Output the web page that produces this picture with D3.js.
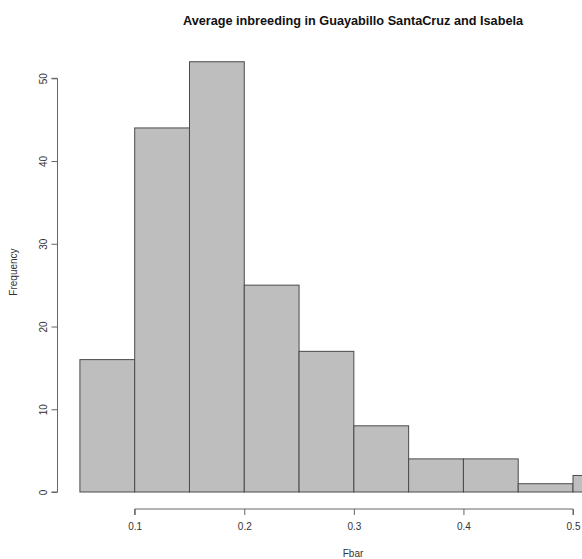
<!DOCTYPE html>
<html>
<head>
<meta charset="utf-8">
<script src="https://cdn.jsdelivr.net/npm/d3@7"></script>
<style>
  html, body { margin: 0; padding: 0; background: #fff; }
  svg { display: block; font-family: "Liberation Sans", Arial, Helvetica, sans-serif; }
</style>
</head>
<body>
<svg id="chart" width="582" height="559"></svg>
<script>
// Histogram of average inbreeding (Fbar), bin width 0.05
const binEdges = [0.05, 0.10, 0.15, 0.20, 0.25, 0.30, 0.35, 0.40, 0.45, 0.50, 0.55];
const binCounts = [16, 44, 52, 25, 17, 8, 4, 4, 1, 2];
const xTicks = [0.1, 0.2, 0.3, 0.4, 0.5];
const yTicks = [0, 10, 20, 30, 40, 50];
const titleText = "Average inbreeding in Guayabillo SantaCruz and Isabela";
const xLabel = "Fbar";
const yLabel = "Frequency";

const svg = d3.select("#chart");

const x = d3.scaleLinear().domain([0.1, 0.5]).range([134.7, 573]);
const y = d3.scaleLinear().domain([0, 50]).range([492, 78.3]);

const bins = binCounts.map((c, i) => ({ x0: binEdges[i], x1: binEdges[i + 1], count: c }));

// bars
svg.append("g")
  .selectAll("rect")
  .data(bins)
  .join("rect")
  .attr("x", d => x(d.x0))
  .attr("width", d => x(d.x1) - x(d.x0))
  .attr("y", d => y(d.count))
  .attr("height", d => y(0) - y(d.count))
  .attr("fill", "#bebebe")
  .attr("stroke", "#4a4a4a")
  .attr("stroke-width", 1);

// x axis
const xAxis = svg.append("g")
  .attr("transform", `translate(0,${509})`)
  .call(d3.axisBottom(x).tickValues(xTicks).tickFormat(d3.format(".1f")).tickSize(6).tickPadding(8));
xAxis.select(".domain").attr("stroke", "#666").attr("d", `M${x(0.1)},6V0H${x(0.5)}V6`);
xAxis.selectAll(".tick line").attr("stroke", "#666");
xAxis.selectAll(".tick text").attr("font-size", 10).attr("fill", "#333");

// y axis
const yAxis = svg.append("g")
  .attr("transform", `translate(${57.5},0)`)
  .call(d3.axisLeft(y).tickValues(yTicks).tickSize(6).tickPadding(0));
yAxis.select(".domain").attr("stroke", "#666").attr("d", `M-6,${y(0)}H0V${y(50)}H-6`);
yAxis.selectAll(".tick line").attr("stroke", "#666");
yAxis.selectAll(".tick text")
  .attr("font-size", 10)
  .attr("fill", "#333")
  .attr("x", null)
  .attr("dy", "0")
  .attr("y", 3.5)
  .attr("text-anchor", "middle")
  .attr("transform", "translate(-14,0) rotate(-90)");

// title
svg.append("text")
  .attr("x", 353).attr("y", 24.5)
  .attr("text-anchor", "middle")
  .attr("font-size", 12.7)
  .attr("font-weight", "bold")
  .attr("fill", "#111")
  .text(titleText);

// axis labels
svg.append("text")
  .attr("x", 353).attr("y", 557)
  .attr("text-anchor", "middle")
  .attr("font-size", 10)
  .attr("fill", "#333")
  .text(xLabel);

svg.append("text")
  .attr("transform", `translate(17,272) rotate(-90)`)
  .attr("text-anchor", "middle")
  .attr("font-size", 10)
  .attr("fill", "#333")
  .text(yLabel);
</script>
</body>
</html>
